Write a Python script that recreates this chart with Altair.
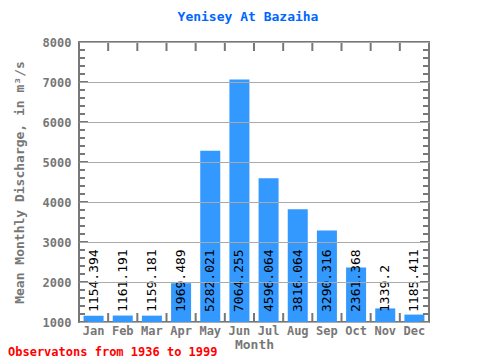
import altair as alt
import pandas as pd

months = ["Jan", "Feb", "Mar", "Apr", "May", "Jun", "Jul", "Aug", "Sep", "Oct", "Nov", "Dec"]
discharge = [1154.394, 1161.191, 1159.181, 1969.489, 5282.021, 7064.255,
             4596.064, 3816.064, 3290.316, 2361.368, 1339.2, 1185.411]
value_labels = ["1154.394", "1161.191", "1159.181", "1969.489", "5282.021", "7064.255",
                "4596.064", "3816.064", "3290.316", "2361.368", "1339.2", "1185.411"]
y_major = [1000, 2000, 3000, 4000, 5000, 6000, 7000, 8000]
y_minor = list(range(1000, 8001, 200))
title_text = "Yenisey At Bazaiha"
footer_text = "Observatons from 1936 to 1999"

W, H = 350, 280
FONT = "DejaVu Sans Mono"
GRAY = "#777777"
P_IN, P_OUT = 0.314, 0.157
STEP = W / 12.0

df = pd.DataFrame({"month": months, "value": discharge, "label": value_labels})
y_scale = alt.Scale(domain=[1000, 8000], nice=False, zero=False)
x_scale = alt.Scale(paddingInner=P_IN, paddingOuter=P_OUT)
x_axis = alt.Axis(title="Month", labelAngle=0, ticks=False, tickSize=0, domain=False,
                  labelPadding=3, titlePadding=2, labelColor=GRAY, titleColor=GRAY,
                  labelFont=FONT, titleFont=FONT, labelFontSize=12, titleFontSize=13,
                  labelFontWeight="bold", titleFontWeight="bold")
y_axis = alt.Axis(title="Mean Monthly Discharge, in m³/s", values=y_major, format="d",
                  ticks=False, tickSize=0, domain=False, grid=True,
                  gridColor="#aaaaaa", gridWidth=1, zindex=1,
                  labelPadding=8, titlePadding=16, labelColor=GRAY,
                  titleColor=GRAY, labelFont=FONT, titleFont=FONT,
                  labelFontSize=12, titleFontSize=13,
                  labelFontWeight="bold", titleFontWeight="bold")

bars = alt.Chart(df).mark_bar(color="#3399ff").encode(
    x=alt.X("month:N", sort=months, scale=x_scale, axis=x_axis),
    y=alt.Y("value:Q", scale=y_scale, axis=y_axis),
    y2=alt.datum(1000),
)

texts = alt.Chart(df).mark_text(angle=270, align="left", baseline="middle", dx=10,
                                font=FONT, fontSize=13, color="black").encode(
    x=alt.X("month:N", sort=months, axis=x_axis),
    y=alt.Y("value:Q", axis=y_axis),
    text="label:N",
).transform_calculate(value="1000")

minor_df = pd.DataFrame({"value": y_minor})
major_df = pd.DataFrame({"value": y_major})
bnd_df = pd.DataFrame({"month": months[1:]})

def yticks(d, x0, x1):
    return alt.Chart(d).mark_rule(color=GRAY, strokeWidth=2).encode(
        y=alt.Y("value:Q", axis=y_axis),
        x=alt.value(x0), x2=alt.value(x1))

def xticks(y0, y1):
    return alt.Chart(bnd_df).mark_rule(color=GRAY, strokeWidth=2,
                                       xOffset=-P_OUT * STEP).encode(
        x=alt.X("month:N", sort=months, bandPosition=0, axis=x_axis),
        y=alt.value(y0), y2=alt.value(y1))

footer = alt.Chart(pd.DataFrame({"t": [footer_text]})).mark_text(
    align="left", baseline="alphabetic", font=FONT, fontSize=12, fontWeight="bold",
    color="#ff0000").encode(text="t:N", x=alt.value(-71), y=alt.value(H + 34))

chart = alt.layer(
    bars, texts,
    yticks(minor_df, 0, 6), yticks(major_df, 0, 9),
    yticks(minor_df, W - 6, W), yticks(major_df, W - 9, W),
    xticks(0, 9), xticks(H - 9, H),
    footer,
).properties(
    width=W, height=H,
    title=alt.TitleParams(title_text, color="#0066ff", font=FONT, fontSize=13,
                          fontWeight="bold", offset=12, dx=-6),
    autosize=alt.AutoSizeParams(type="none"),
    padding={"left": 71, "top": 34, "right": 43, "bottom": 36},
).configure_view(stroke=GRAY, strokeWidth=2)

chart.save("out.html", embed_options={"renderer": "svg", "actions": False})
